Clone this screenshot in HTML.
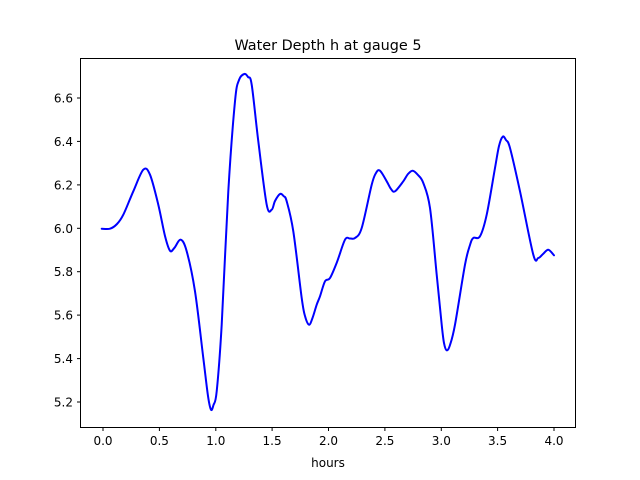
<!DOCTYPE html>
<html><head><meta charset="utf-8"><style>body{margin:0;background:#fff}svg{display:block}text{font-family:"DejaVu Sans","Liberation Sans",sans-serif;fill:#000}</style></head><body>
<svg width="640" height="480" xmlns="http://www.w3.org/2000/svg">
<rect width="640" height="480" fill="#fff"/>
<text x="328" y="50" font-size="14.4" text-anchor="middle">Water Depth h at gauge 5</text>
<polyline id="pl" fill="none" stroke="#0000ff" stroke-width="2" stroke-linejoin="round" stroke-linecap="round" points="101.7,228.7 110,228.7 117,224 123.3,214.7 133.3,191.3 143.3,169.7 150,174.7 158.3,204.7 165,236 170,250.7 174.3,248 180.7,239.7 186.7,251.3 195,291.3 203.3,358 208,396 211,409.7 213.5,405 216.7,391.3 221.7,324.7 228.3,191.3 235,101.3 239,80 244.3,74 248,77 251.7,84.7 258.3,141.3 266.7,204.7 271.7,209.7 275,201 280,194 283.5,196 286.7,201.3 293.3,231.3 301.7,298 305,316 309,324.7 312.5,318 316.7,304.7 320,296.3 325,281.3 330,278 337,262 345,239.7 350,238.5 355,238 361.7,228 371.7,184.7 376,173 380,170.7 386.7,181.3 391,189 395,191.3 403.3,181.3 408,174 412.7,170.7 418,175 423.3,183 430,208 436.7,274.7 441.7,324.7 444,343 446.7,350.3 450,345 455,324.7 465,264.7 470,245 473.3,238 480,236.3 486.7,214.7 495,168 499,146 502.7,136.7 506,140 510,148 520,191.3 533.3,254.7 538.3,258 543,254 548.3,249.7 554,255.3"/>
<path id="pp" fill="none" stroke="#0000ff" stroke-width="2" stroke-linejoin="round" stroke-linecap="round" d=""/>
<rect x="80.5" y="58.5" width="495" height="369" fill="none" stroke="#000" stroke-width="1"/>
<g stroke="#000" stroke-width="1">
<line x1="103" y1="427.5" x2="103" y2="431"/><line x1="159.4" y1="427.5" x2="159.4" y2="431"/><line x1="215.8" y1="427.5" x2="215.8" y2="431"/><line x1="272.1" y1="427.5" x2="272.1" y2="431"/><line x1="328.5" y1="427.5" x2="328.5" y2="431"/><line x1="384.9" y1="427.5" x2="384.9" y2="431"/><line x1="441.3" y1="427.5" x2="441.3" y2="431"/><line x1="497.6" y1="427.5" x2="497.6" y2="431"/><line x1="554" y1="427.5" x2="554" y2="431"/>
<line x1="77" y1="402" x2="80.5" y2="402"/><line x1="77" y1="358.6" x2="80.5" y2="358.6"/><line x1="77" y1="315.1" x2="80.5" y2="315.1"/><line x1="77" y1="271.7" x2="80.5" y2="271.7"/><line x1="77" y1="228.3" x2="80.5" y2="228.3"/><line x1="77" y1="184.9" x2="80.5" y2="184.9"/><line x1="77" y1="141.4" x2="80.5" y2="141.4"/><line x1="77" y1="98" x2="80.5" y2="98"/>
</g>
<g font-size="12" text-anchor="middle">
<text x="103" y="445">0.0</text><text x="159.4" y="445">0.5</text><text x="215.8" y="445">1.0</text><text x="272.1" y="445">1.5</text><text x="328.5" y="445">2.0</text><text x="384.9" y="445">2.5</text><text x="441.3" y="445">3.0</text><text x="497.6" y="445">3.5</text><text x="554" y="445">4.0</text>
</g>
<g font-size="12" text-anchor="end">
<text x="73" y="406.5">5.2</text><text x="73" y="363">5.4</text><text x="73" y="319.6">5.6</text><text x="73" y="276.2">5.8</text><text x="73" y="232.8">6.0</text><text x="73" y="189.4">6.2</text><text x="73" y="145.9">6.4</text><text x="73" y="102.5">6.6</text>
</g>
<text x="328" y="467" font-size="12" text-anchor="middle">hours</text>
</svg>
<script>
(function(){var pl=document.getElementById('pl');var p=pl.getAttribute('points').trim().split(/\s+/).map(function(s){return s.split(',').map(Number);});
var d='M'+p[0][0]+','+p[0][1];
for(var i=0;i<p.length-1;i++){var p0=p[i>0?i-1:0],p1=p[i],p2=p[i+1],p3=p[i+2<p.length?i+2:i+1];
var c1x=p1[0]+(p2[0]-p0[0])/6,c1y=p1[1]+(p2[1]-p0[1])/6,c2x=p2[0]-(p3[0]-p1[0])/6,c2y=p2[1]-(p3[1]-p1[1])/6;
d+=' C'+c1x.toFixed(2)+','+c1y.toFixed(2)+' '+c2x.toFixed(2)+','+c2y.toFixed(2)+' '+p2[0]+','+p2[1];}
document.getElementById('pp').setAttribute('d',d);pl.style.display='none';})();
</script>
</body></html>
